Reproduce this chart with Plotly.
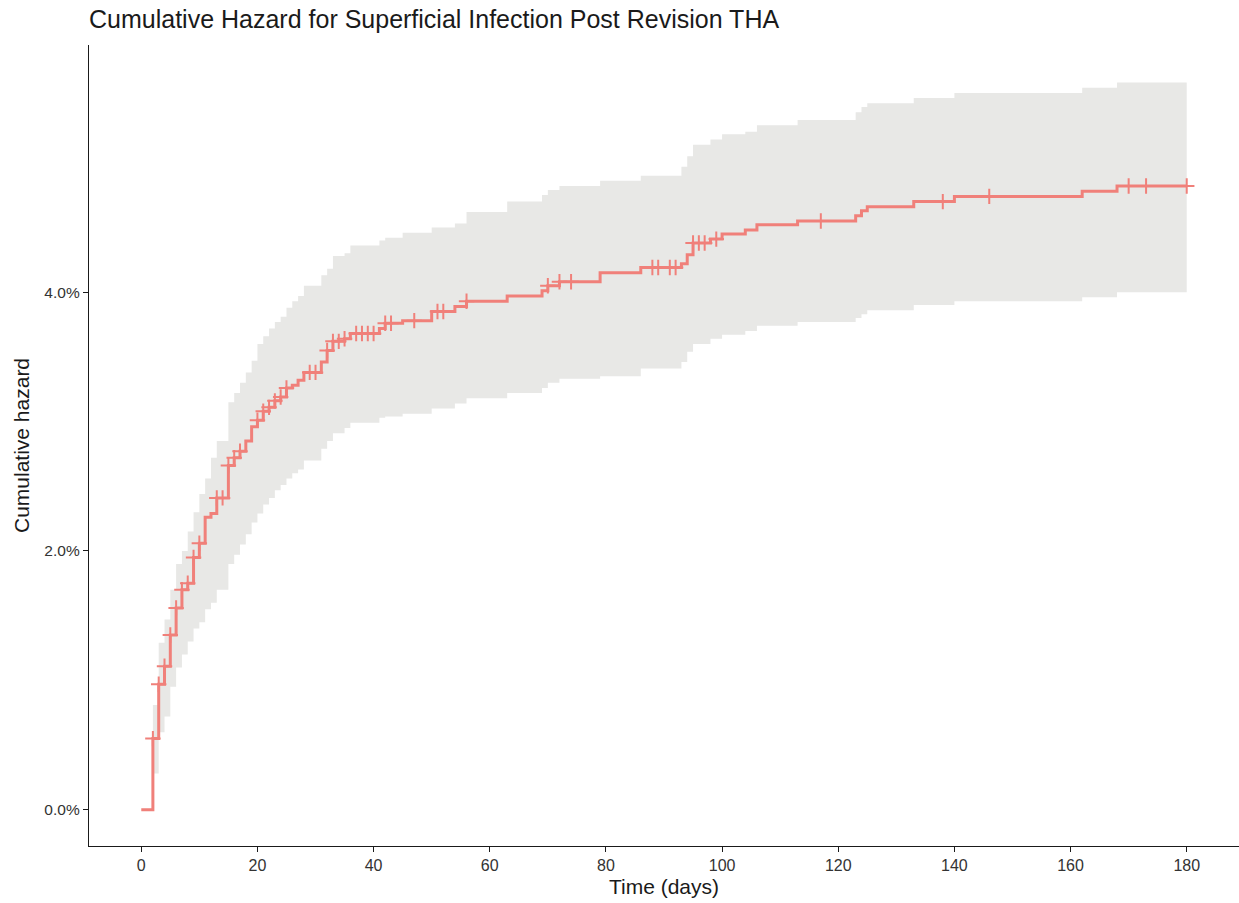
import numpy as np
import plotly.graph_objects as go

# step times (days) where the estimate changes
times = [0, 2, 3, 4, 5, 6, 7, 8, 9, 10, 11, 12, 13, 15, 16, 17, 18, 19, 20, 21, 22, 23, 24, 25, 26, 27, 28,
         31, 32, 33, 35, 36, 41, 42, 45, 50, 54, 56, 63, 69, 70, 72, 79, 86, 93, 94, 95, 98, 100, 104, 106,
         113, 123, 124, 125, 133, 140, 162, 168]
# cumulative hazard (%)
hazard = [0.00, 0.55, 0.97, 1.11, 1.35, 1.56, 1.70, 1.75, 1.95, 2.06, 2.26, 2.29, 2.41, 2.66, 2.72, 2.77, 2.85,
          2.96, 3.01, 3.08, 3.11, 3.16, 3.19, 3.26, 3.28, 3.32, 3.38,
          3.46, 3.55, 3.62, 3.64, 3.68, 3.72, 3.76, 3.78, 3.85, 3.89, 3.93, 3.97, 4.01, 4.05, 4.08, 4.15, 4.19,
          4.22, 4.29, 4.38, 4.41, 4.45, 4.48, 4.52,
          4.55, 4.59, 4.63, 4.66, 4.70, 4.74, 4.78, 4.82]
# upper confidence limit (%)
upper = [0.00, 0.81, 1.29, 1.47, 1.70, 1.90, 2.00, 2.15, 2.30, 2.44, 2.56, 2.72, 2.85, 3.15, 3.22, 3.30, 3.38,
         3.47, 3.60, 3.66, 3.72, 3.77, 3.81, 3.88, 3.93, 3.97, 4.05,
         4.13, 4.18, 4.28, 4.30, 4.36, 4.40, 4.42, 4.46, 4.50, 4.53, 4.62, 4.70, 4.75, 4.79, 4.82, 4.86, 4.90,
         4.97, 5.05, 5.14, 5.18, 5.22, 5.24, 5.29,
         5.33, 5.39, 5.43, 5.46, 5.50, 5.54, 5.58, 5.62]
# lower confidence limit (%)
lower = [0.00, 0.28, 0.60, 0.72, 0.95, 1.10, 1.20, 1.30, 1.40, 1.45, 1.55, 1.60, 1.70, 1.90, 1.97, 2.05, 2.13,
         2.22, 2.29, 2.36, 2.41, 2.47, 2.51, 2.56, 2.60, 2.63, 2.70,
         2.79, 2.85, 2.91, 2.95, 2.99, 3.03, 3.04, 3.06, 3.10, 3.14, 3.18, 3.22, 3.26, 3.30, 3.33, 3.35, 3.41,
         3.46, 3.54, 3.60, 3.64, 3.67, 3.70, 3.74,
         3.77, 3.80, 3.83, 3.86, 3.90, 3.93, 3.96, 4.00]
end_time = 180
# censoring times (days)
censor_times = [2, 3, 4, 5, 6, 7, 8, 9, 10, 13, 14, 15, 16, 17, 20, 21, 22, 23, 24, 25, 29, 30, 32, 33, 34, 35,
                37, 38, 39, 40, 42, 43, 47, 51, 52, 56, 70, 72, 74, 88, 89, 91, 92, 95, 96, 97, 99, 117, 138,
                146, 170, 173, 180]

x_tick_vals = [0, 20, 40, 60, 80, 100, 120, 140, 160, 180]
y_tick_vals = [0, 2, 4]
y_tick_text = ["0.0%", "2.0%", "4.0%"]

line_color = "#F0807A"
band_color = "rgb(232,232,230)"

t_ext = times + [end_time]
h_ext = hazard + [hazard[-1]]
u_ext = upper + [upper[-1]]
l_ext = lower + [lower[-1]]

idx = np.searchsorted(np.array(times), np.array(censor_times), side="right") - 1
censor_h = [hazard[i] for i in idx]

fig = go.Figure()
fig.add_trace(go.Scatter(x=t_ext, y=l_ext, mode="lines", line=dict(width=0, shape="hv", color=band_color),
                         showlegend=False, hoverinfo="skip"))
fig.add_trace(go.Scatter(x=t_ext, y=u_ext, mode="lines", line=dict(width=0, shape="hv", color=band_color),
                         fill="tonexty", fillcolor=band_color, showlegend=False, hoverinfo="skip"))
fig.add_trace(go.Scatter(x=t_ext, y=h_ext, mode="lines", line=dict(width=3, shape="hv", color=line_color),
                         showlegend=False))
fig.add_trace(go.Scatter(x=censor_times, y=censor_h, mode="markers",
                         marker=dict(symbol="cross-thin", size=11, line=dict(width=2, color=line_color),
                                     color=line_color),
                         showlegend=False))

font_family = "Liberation Sans, Arial, sans-serif"
fig.update_layout(
    width=1239, height=903,
    margin=dict(l=89, r=0, t=45, b=57),
    paper_bgcolor="white", plot_bgcolor="white",
    font=dict(family=font_family, color="#1a1a1a"),
    title=dict(text="Cumulative Hazard for Superficial Infection Post Revision THA",
               x=89 / 1239, xanchor="left", y=1 - 19 / 903, yanchor="middle",
               font=dict(size=25, color="#1a1a1a", family=font_family)),
)
fig.update_xaxes(range=[-9, 189], tickmode="array", tickvals=x_tick_vals,
                 showline=True, linecolor="#1a1a1a", linewidth=1.4, showgrid=False, zeroline=False,
                 ticks="outside", ticklen=5, tickwidth=1.2, tickcolor="#1a1a1a",
                 tickfont=dict(size=16, color="#333"),
                 title=dict(text="Time (days)", font=dict(size=21, color="#1a1a1a"), standoff=5))
fig.update_yaxes(range=[-0.28, 5.91], tickmode="array", tickvals=y_tick_vals, ticktext=y_tick_text,
                 showline=True, linecolor="#1a1a1a", linewidth=1.4, showgrid=False, zeroline=False,
                 ticks="outside", ticklen=5, tickwidth=1.2, tickcolor="#1a1a1a",
                 tickfont=dict(size=15.5, color="#333"),
                 title=dict(text="Cumulative hazard", font=dict(size=21, color="#1a1a1a"), standoff=9))

fig.write_html("out.html")
